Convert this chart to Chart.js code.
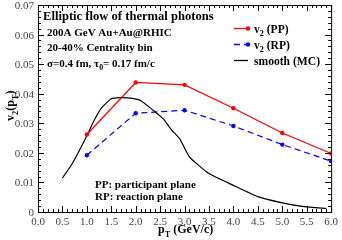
<!DOCTYPE html>
<html lang="en">
    <head>
        <meta charset="UTF-8" />
        <title>Elliptic flow of thermal photons</title>
        <script src="https://cdn.jsdelivr.net/npm/chart.js"></script>
        <style>
            html, body {
                margin: 0;
                padding: 0;
                background: #fff;
            }
            .chart-container {
                width: 342px;
                height: 240px;
            }
        </style>
    </head>
    <body>
        <div class="chart-container">
            <canvas id="flowChart" width="342" height="240"></canvas>
        </div>

        <script>
            // values
            const ptPoints = [1.0, 2.0, 3.0, 4.0, 5.0, 6.0];
            const v2PP = [0.0262, 0.0438, 0.043, 0.0351, 0.0267, 0.0198];
            const v2RP = [0.0192, 0.0334, 0.0344, 0.0291, 0.0228, 0.0172];

            const smoothPt = [0.5, 0.68, 0.85, 1.0, 1.15, 1.3, 1.5, 1.7, 1.9, 2.1, 2.35, 2.57, 2.73, 2.9, 3.1, 3.5, 4.0, 4.5, 5.0, 5.45, 5.9];
            const smoothV2 = [0.0115, 0.0158, 0.0209, 0.0258, 0.031, 0.0352, 0.0383, 0.0387, 0.0385, 0.0377, 0.0345, 0.0314, 0.0278, 0.0248, 0.0186, 0.013, 0.009, 0.0052, 0.0031, 0.0018, 0.0012];

            const xTicks = [0, 0.5, 1, 1.5, 2, 2.5, 3, 3.5, 4, 4.5, 5, 5.5, 6];
            const yTicks = [0, 0.01, 0.02, 0.03, 0.04, 0.05, 0.06, 0.07];
            const yTickLabels = ["0", "0.01", "0.02", "0.03", "0.04", "0.05", "0.06", "0.07"];

            const serif = '"Liberation Serif", "DejaVu Serif", serif';

            function toXY(xs, ys) {
                return xs.map((x, i) => ({ x: x, y: ys[i] }));
            }

            // draw text with subscript parts, e.g. [["v"], ["2", true], [" (PP)"]]
            function richText(ctx, parts, x, y, size) {
                let cx = x;
                parts.forEach((p) => {
                    const sub = p[1];
                    ctx.font = "bold " + (sub ? size * 0.7 : size) + "px " + serif;
                    ctx.fillText(p[0], cx, sub ? y + size * 0.3 : y);
                    cx += ctx.measureText(p[0]).width;
                });
                return cx;
            }

            const framePlugin = {
                id: "frame",
                afterDraw(chart) {
                    const ctx = chart.ctx;
                    const a = chart.chartArea;
                    const xs = chart.scales.x;
                    const ys = chart.scales.y;
                    ctx.save();
                    ctx.strokeStyle = "#000";
                    ctx.lineWidth = 1;
                    ctx.strokeRect(a.left + 0.5, a.top + 0.5, a.right - a.left, a.bottom - a.top);

                    ctx.beginPath();
                    for (let i = 0; i <= 60; i++) {
                        const px = Math.round(xs.getPixelForValue(i / 10)) + 0.5;
                        const len = i % 5 === 0 ? 6 : 3;
                        ctx.moveTo(px, a.bottom);
                        ctx.lineTo(px, a.bottom - len);
                        ctx.moveTo(px, a.top);
                        ctx.lineTo(px, a.top + len);
                    }
                    for (let i = 0; i <= 35; i++) {
                        const py = Math.round(ys.getPixelForValue(i * 0.002)) + 0.5;
                        const len = i % 5 === 0 ? 6 : 3;
                        ctx.moveTo(a.left, py);
                        ctx.lineTo(a.left + len, py);
                        ctx.moveTo(a.right, py);
                        ctx.lineTo(a.right - len, py);
                    }
                    ctx.stroke();

                    // y tick labels
                    ctx.fillStyle = "#444";
                    ctx.font = "11px " + serif;
                    ctx.textAlign = "left";
                    ctx.textBaseline = "alphabetic";
                    yTicks.forEach((v, i) => {
                        const label = yTickLabels[i];
                        const w = ctx.measureText(label).width;
                        ctx.fillText(label, a.left - 4 - w, ys.getPixelForValue(v) + 4);
                    });

                    // annotations
                    ctx.fillStyle = "#000";
                    ctx.textBaseline = "alphabetic";
                    ctx.textAlign = "left";
                    ctx.font = "bold 12.6px " + serif;
                    ctx.fillText("Elliptic flow of thermal photons", 43, 20);
                    ctx.font = "bold 11px " + serif;
                    ctx.fillText("200A GeV Au+Au@RHIC", 47, 36);
                    ctx.fillText("20-40% Centrality bin", 47, 51);
                    richText(ctx, [["\u03c3=0.4 fm, \u03c4"], ["0", true], ["= 0.17 fm/c"]], 47, 67, 11);
                    ctx.font = "bold 11px " + serif;
                    ctx.fillText("PP: participant plane", 95, 188);
                    ctx.fillText("RP: reaction plane", 95, 200);

                    // legend
                    const ds = chart.data.datasets;
                    const rows = [
                        [[["v"], ["2", true], [" (PP)"]], 29],
                        [[["v"], ["2", true], [" (RP)"]], 45],
                        [[["smooth (MC)"]], 61],
                    ];
                    rows.forEach((r, i) => {
                        const d = ds[i];
                        const ly = r[1] - 0.5;
                        ctx.strokeStyle = d.borderColor;
                        ctx.lineWidth = 1.3;
                        ctx.setLineDash(d.borderDash || []);
                        ctx.beginPath();
                        ctx.moveTo(234, ly);
                        ctx.lineTo(248, ly);
                        ctx.stroke();
                        ctx.setLineDash([]);
                        if (d.pointRadius > 0) {
                            ctx.fillStyle = d.borderColor;
                            ctx.beginPath();
                            ctx.arc(248, ly, 2.2, 0, Math.PI * 2);
                            ctx.fill();
                        }
                        ctx.fillStyle = "#000";
                        richText(ctx, r[0], 254, r[1] + 4, 11.6);
                    });

                    // axis titles
                    richText(ctx, [["p"], ["T", true], [" (GeV/c)"]], 158, 233, 12);
                    ctx.translate(14, 121);
                    ctx.rotate(-Math.PI / 2);
                    richText(ctx, [["v"], ["2", true], ["(p"], ["T", true], [")"]], 0, 0, 12);
                    ctx.restore();
                },
            };

            const ctx = document.getElementById("flowChart").getContext("2d");

            new Chart(ctx, {
                type: "scatter",
                data: {
                    datasets: [
                        {
                            label: "v2 (PP)",
                            data: toXY(ptPoints, v2PP),
                            showLine: true,
                            borderColor: "#ff0000",
                            backgroundColor: "#ff0000",
                            borderWidth: 1.2,
                            pointRadius: 2.2,
                            pointBorderWidth: 0,
                        },
                        {
                            label: "v2 (RP)",
                            data: toXY(ptPoints, v2RP),
                            showLine: true,
                            borderColor: "#0000ff",
                            backgroundColor: "#0000ff",
                            borderWidth: 1.2,
                            borderDash: [6, 4],
                            pointRadius: 2.2,
                            pointBorderWidth: 0,
                        },
                        {
                            label: "smooth (MC)",
                            data: toXY(smoothPt, smoothV2),
                            showLine: true,
                            borderColor: "#000000",
                            backgroundColor: "#000000",
                            borderWidth: 1.2,
                            pointRadius: 0,
                            tension: 0.15,
                        },
                    ],
                },
                options: {
                    responsive: false,
                    animation: false,
                    layout: { padding: { top: 5, right: 8, left: 0, bottom: 0 } },
                    plugins: {
                        legend: { display: false },
                        tooltip: { enabled: false },
                    },
                    scales: {
                        x: {
                            type: "linear",
                            min: 0,
                            max: 6,
                            afterFit: (s) => { s.height = 28; },
                            afterBuildTicks: (s) => { s.ticks = xTicks.map((v) => ({ value: v })); },
                            grid: { display: false, drawTicks: false },
                            border: { display: false },
                            ticks: {
                                padding: 4,
                                color: "#444",
                                font: { family: serif, size: 11 },
                                maxRotation: 0,
                                callback: (v) => v.toFixed(1),
                            },
                        },
                        y: {
                            type: "linear",
                            min: 0,
                            max: 0.07,
                            afterFit: (s) => { s.width = 38; },
                            afterBuildTicks: (s) => { s.ticks = yTicks.map((v) => ({ value: v })); },
                            grid: { display: false, drawTicks: false },
                            border: { display: false },
                            ticks: { display: false },
                        },
                    },
                },
                plugins: [framePlugin],
            });
        </script>
    </body>
</html>
